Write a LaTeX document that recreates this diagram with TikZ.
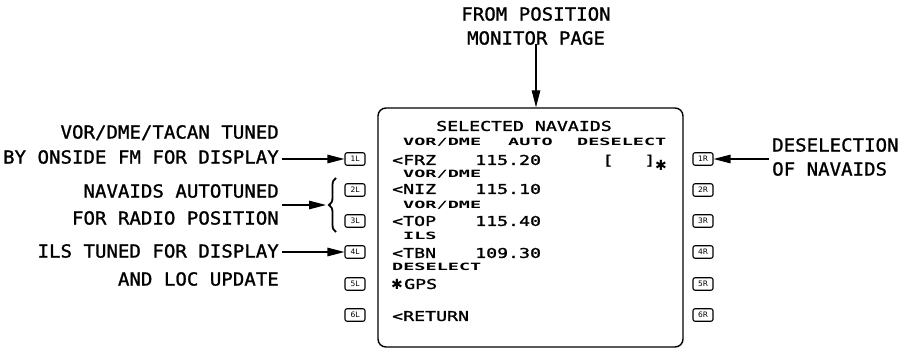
\documentclass[tikz,border=0pt]{standalone}
\usepackage{fontspec}
\usetikzlibrary{arrows.meta,decorations.pathreplacing}
\newfontfamily\lblfont[FakeStretch=1.06,FakeBold=1.2]{DejaVu Sans Mono}
\newfontfamily\cdufont[FakeStretch=1.35,FakeBold=1.5]{DejaVu Sans Mono}
\newfontfamily\cdusmall[FakeStretch=1.85]{DejaVu Sans Mono}
\newfontfamily\keyfont{DejaVu Sans}

\begin{document}
\begin{tikzpicture}[x=1pt,y=-1pt,
  lbl/.style={font=\lblfont\fontsize{18}{18}\selectfont, text height=13.1pt, text depth=0pt, inner sep=3pt, anchor=east},
  big/.style={font=\cdufont\fontsize{13.5}{14}\selectfont, text height=9.8pt, text depth=0pt, inner sep=0pt, anchor=west},
  small/.style={font=\cdusmall\bfseries\fontsize{10}{10}\selectfont, text height=7.3pt, text depth=0pt, inner sep=0pt, anchor=west},
  star/.style={font=\keyfont\bfseries\fontsize{14}{14}\selectfont, inner sep=0pt},
  key/.style={draw, line width=1.1pt, rounded corners=2pt, minimum width=20pt, minimum height=12.5pt, inner sep=0pt, font=\keyfont\fontsize{7.5}{8}\selectfont},
  arr/.style={-{Triangle[length=17pt,width=8.5pt]}, line width=1.2pt}]
\useasboundingbox (0,0) rectangle (904,350);
\node[draw, line width=1.4pt, rounded corners=8pt, minimum width=305pt, minimum height=239pt] (scr) at (530.5,227.5) {};
\foreach \i/\y in {1/159,2/190,3/221,4/252,5/284,6/315}{
  \node[key] (kL\i) at (355,\y) {\i L};
  \node[key] (kR\i) at (703,\y) {\i R};
}
\node[lbl, anchor=center] (top1) at (536,14) {FROM POSITION};
\node[lbl, anchor=center] (top2) at (536,38) {MONITOR PAGE};
\draw[arr] ([yshift=4pt]top2.south) -- (top2.south |- scr.north);
\node[lbl] (fm1) at (282,132) {VOR/DME/TACAN TUNED};
\node[lbl] (fm2) at (282,157) {BY ONSIDE FM FOR DISPLAY};
\draw[arr] (kL1.west -| fm2.east) -- (kL1.west);
\node[lbl] (nav1) at (282,191) {NAVAIDS AUTOTUNED};
\node[lbl] (nav2) at (282,218) {FOR RADIO POSITION};
\draw[decorate, decoration={brace, amplitude=7pt, mirror}, line width=1.8pt] (336,178) -- (336,232);
\coordinate (brtip) at (326,205);
\draw[arr] (brtip -| nav1.east) -- (brtip);
\node[lbl] (ils1) at (282,251) {ILS TUNED FOR DISPLAY};
\node[lbl] (ils2) at (282,279) {AND LOC UPDATE};
\draw[arr] (kL4.west -| ils1.east) -- (kL4.west);
\node[lbl, anchor=west] (des1) at (769,145) {DESELECTION};
\node[lbl, anchor=west] (des2) at (769,169) {OF NAVAIDS};
\draw[arr] (kR1.east -| des1.west) -- (kR1.east);
\node[big, anchor=center] (title) at (524,126) {SELECTED NAVAIDS};
\node[small] (hd1) at (403,142) {VOR/DME};
\node[small] (hd2) at (508,142) {AUTO};
\node[small] (hd3) at (577,142) {DESELECT};
\foreach \id/\fr/\y in {FRZ/115.20/160,NIZ/115.10/189,TOP/115.40/221,TBN/109.30/253}{
  \node[big] (id\id) at (392,\y) {<\id};
  \node[big] (fr\id) at (475,\y) {\fr};
}
\node[big, anchor=center] (brl) at (608,160) {[};
\node[big, anchor=center] (brr) at (650,160) {]};
\node[star] (star1) at (661,165) {✱};
\node[small] (sub1) at (403,174) {VOR/DME};
\node[small] (sub2) at (403,205) {VOR/DME};
\node[small] (sub3) at (403,236) {ILS};
\node[small] (sub4) at (392,267) {DESELECT};
\node[star] (star2) at (397,284) {✱};
\node[big] (gps) at (404,284) {GPS};
\node[big] (ret) at (392,316) {<RETURN};
\end{tikzpicture}
\end{document}
